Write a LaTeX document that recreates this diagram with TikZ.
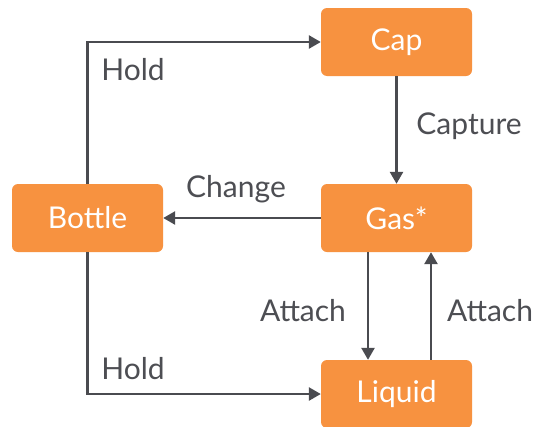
\documentclass[tikz,border=0pt]{standalone}
\usepackage{fontspec}
\setmainfont{Lato}
\usetikzlibrary{arrows.meta}
\definecolor{boxorange}{HTML}{F79240}
\definecolor{linegrey}{HTML}{4A4B50}
\definecolor{textgrey}{HTML}{4D4E53}
\tikzset{
  statebox/.style={rectangle, rounded corners=6pt, fill=boxorange, draw=none,
    minimum width=151pt, minimum height=68pt, text=white, font=\fontsize{30}{34}\selectfont},
  arr/.style={draw=linegrey, line width=2.6pt, -{Triangle[length=12pt,width=13pt]}},
  lbl/.style={text=textgrey, font=\fontsize{30}{34}\selectfont, inner sep=0pt}
}
\begin{document}
\begin{tikzpicture}[x=1pt,y=-1pt]
\useasboundingbox (0,0) rectangle (534,426);
\fill[white] (0,0) rectangle (534,426);
\node[statebox] (cap) at (396.5,42) {Cap};
\node[statebox] (bottle) at (87.5,218) {Bottle};
\node[statebox] (gas) at (396.5,218) {Gas*};
\node[statebox] (liquid) at (396.5,394) {Liquid};
\draw[arr] (bottle.north) |- (cap.west);
\draw[arr] (bottle.south) |- (liquid.west);
\draw[arr] (cap.south) -- (gas.north);
\draw[arr] (gas.west) -- (bottle.east);
\draw[arr] ([xshift=-28.5pt]gas.south) -- ([xshift=-28.5pt]liquid.north);
\draw[arr] ([xshift=34.5pt]liquid.north) -- ([xshift=34.5pt]gas.south);
\node[lbl] (l1) at (133,70) {Hold};
\node[lbl] (l2) at (469,126) {Capture};
\node[lbl] (l3) at (236,189) {Change};
\node[lbl] (l4) at (303,311) {Attach};
\node[lbl] (l5) at (490,311) {Attach};
\node[lbl] (l6) at (133,369) {Hold};
\end{tikzpicture}
\end{document}
